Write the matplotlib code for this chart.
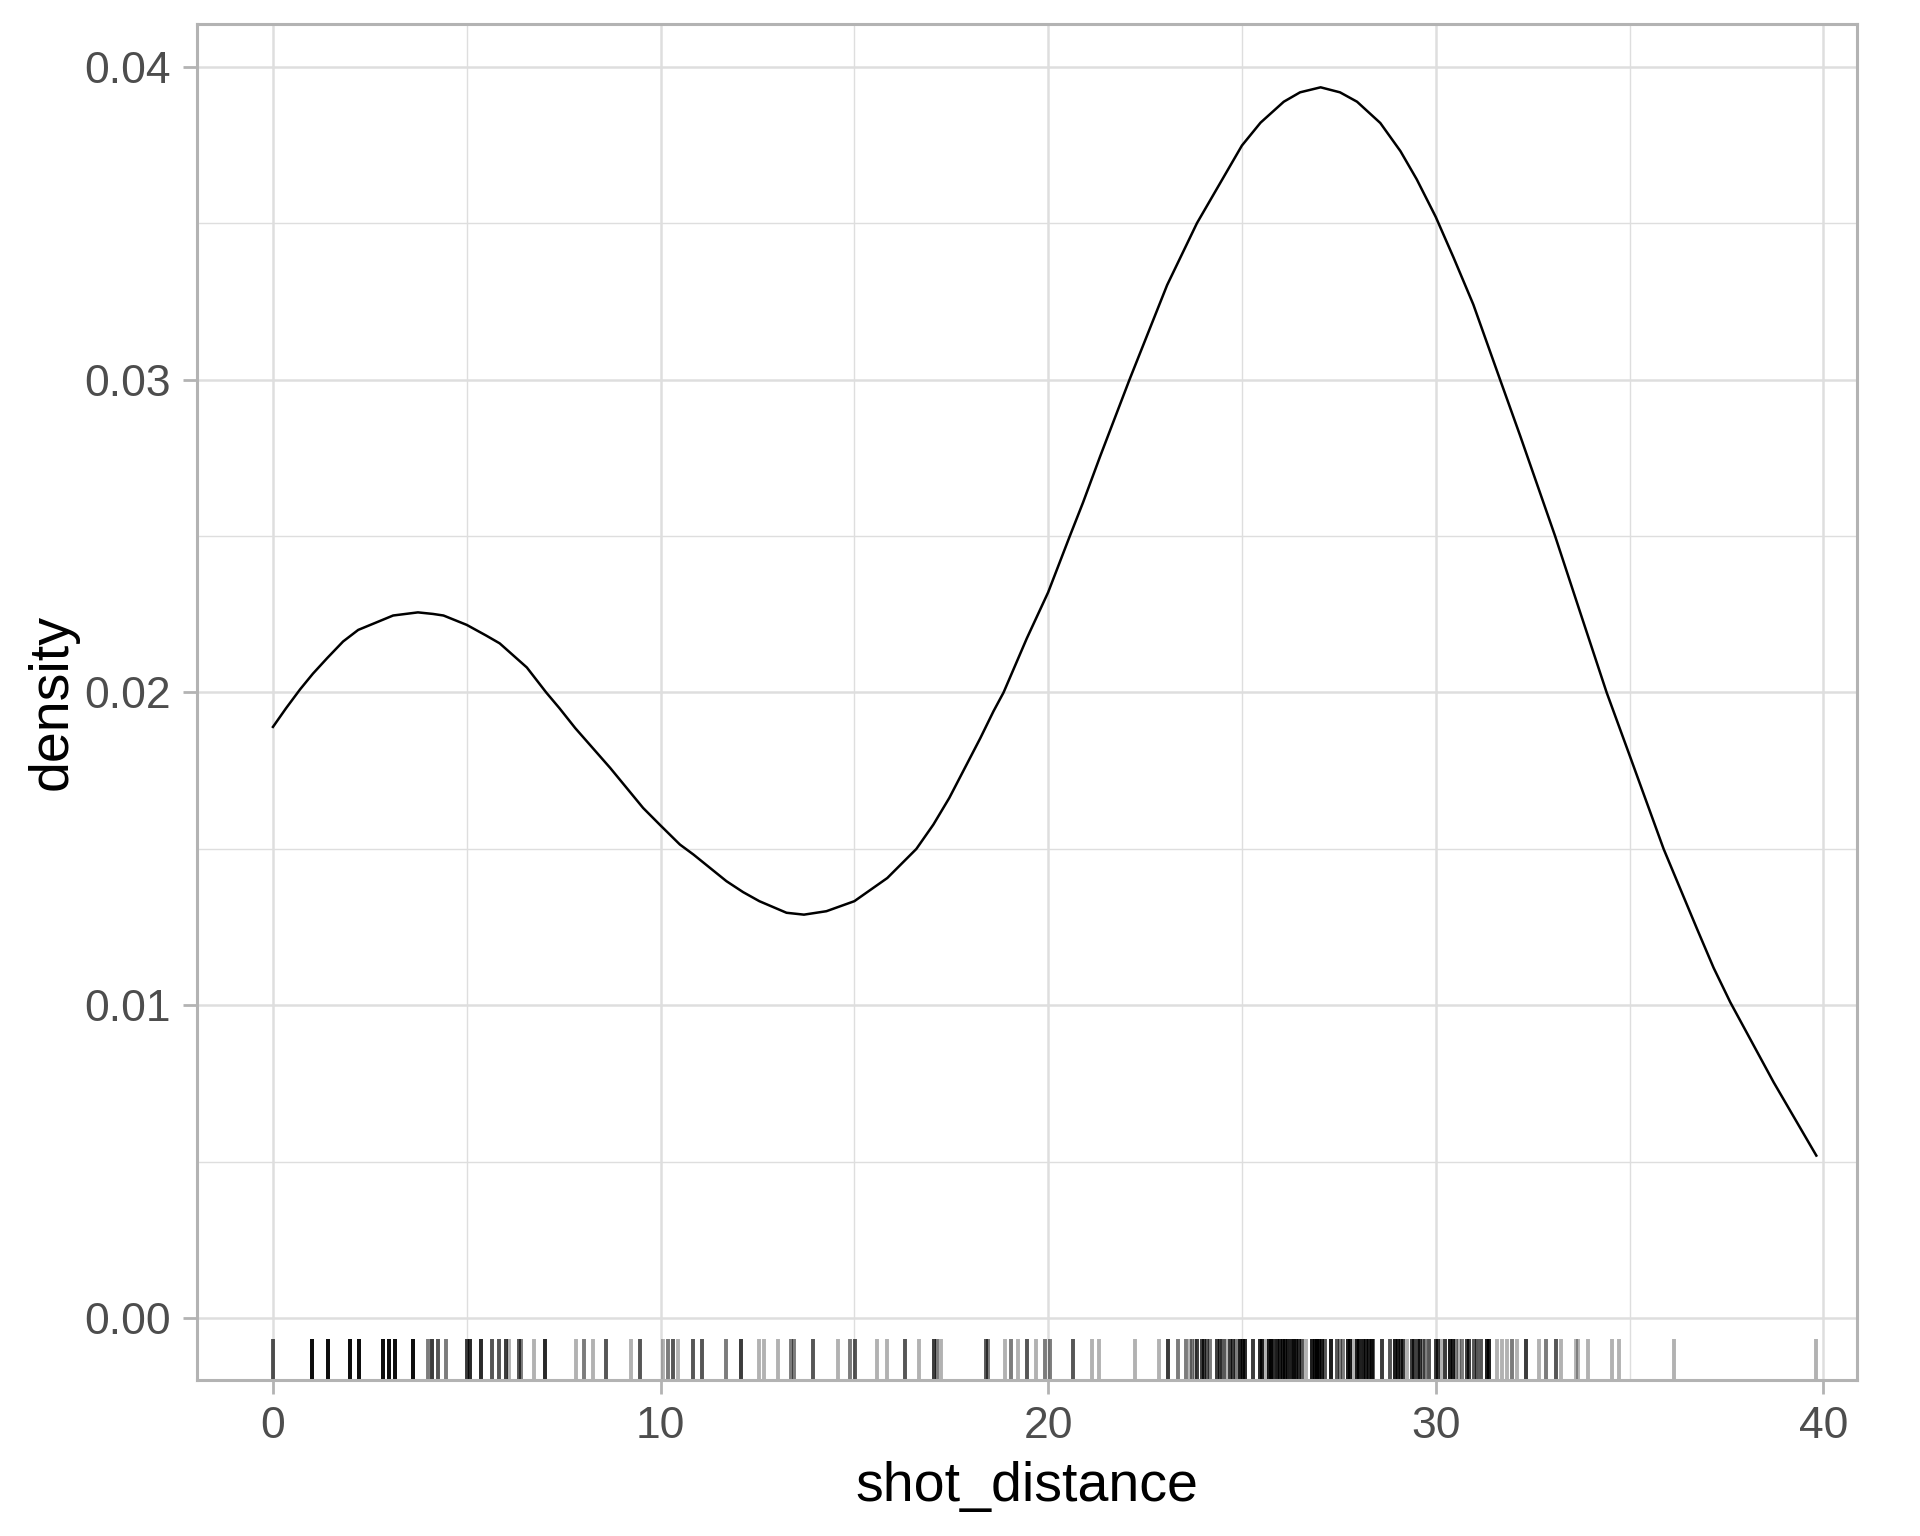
# -*- coding: utf-8 -*-
# density of shot distance with a rug underneath (ggplot theme_light look)

import numpy as np
import matplotlib
matplotlib.use("Agg")
import matplotlib.pyplot as plt
from matplotlib.ticker import MultipleLocator, FormatStrFormatter

plt.rcParams['font.family'] = ['Liberation Sans', 'DejaVu Sans']

# density curve
curve_x = [0.0, 0.34, 0.7, 1.03, 1.4, 1.81, 2.2, 2.67, 3.1, 3.74, 4.13, 4.4, 5.0,
           5.5, 5.85, 6.55, 7.05, 7.39, 7.8, 8.7, 9.55, 10.0, 10.5,
           10.85, 11.7, 12.13, 12.55, 13.25, 13.7, 14.28, 15.0, 15.85, 16.6, 17.04,
           17.45, 18.25, 18.59, 18.85, 19.45, 20.0, 20.56, 20.9, 21.34, 22.1,
           23.07, 23.84, 25.0, 25.48, 26.08, 26.5, 27.03,
           27.53, 27.97, 28.57, 29.09, 29.51, 30.0, 30.46, 30.97, 31.66, 32.18,
           33.08, 33.73, 34.41, 35.0, 35.88, 36.74, 37.17, 37.6, 38.72, 39.82]
curve_y = [0.0189, 0.0195, 0.0201, 0.0206, 0.0211, 0.02163, 0.0220, 0.02224,
           0.02246, 0.02256, 0.02251, 0.02246, 0.02216, 0.02182, 0.02157, 0.0208,
           0.0200, 0.0195, 0.01886, 0.01759, 0.01631, 0.01575,
           0.01514, 0.01482, 0.01397, 0.01362, 0.01333, 0.01296, 0.0129, 0.01301,
           0.01333, 0.01407, 0.0150, 0.01578, 0.01663, 0.01854, 0.0194, 0.0200,
           0.02173, 0.0232, 0.0250, 0.02607, 0.02754, 0.0300, 0.03302,
           0.0350, 0.03748, 0.03821, 0.03888, 0.03918, 0.03934,
           0.03918, 0.03888, 0.0382, 0.0373, 0.0364, 0.0352, 0.0339, 0.0324,
           0.0300, 0.0282, 0.0250, 0.02255, 0.0200, 0.0180, 0.0150, 0.01245,
           0.0112, 0.0101, 0.00754, 0.0052]

# rug: shot distances and how many shots sit on each
rug_values = [0.0, 1.0, 1.42, 2.0, 2.23, 2.83, 3.0, 3.15, 3.62, 4.0, 4.1, 4.25, 4.47,
              5.01, 5.09, 5.38, 5.65, 5.83, 6.01, 6.08, 6.34, 6.41, 6.73, 7.01,
              7.81, 8.02, 8.25, 8.58, 9.23, 9.47,
              10.06, 10.2, 10.31, 10.46, 10.84, 11.06, 11.69, 12.07, 12.54, 12.67,
              13.02, 13.36, 13.45, 13.94, 14.59, 14.9, 15.01, 15.59, 15.84, 16.3,
              16.66, 17.05, 17.14, 17.24, 18.4, 18.46, 18.89, 19.03, 19.22, 19.46,
              19.68, 19.91,
              20.04, 20.64, 21.12, 21.31, 22.24, 22.86, 23.1, 23.36,
              23.57, 23.66, 23.72, 23.79, 23.83, 23.96, 24.03, 24.09, 24.17, 24.35,
              24.43, 24.48, 24.54, 24.6, 24.69, 24.78, 24.85, 24.95, 25.02, 25.08,
              25.29, 25.46, 25.52, 25.62, 25.7, 25.76, 25.8, 25.9, 25.98, 26.05,
              26.12, 26.2, 26.28, 26.34, 26.4, 26.46, 26.55, 26.66, 26.81, 26.88,
              26.94, 27.0, 27.06, 27.15, 27.29, 27.45, 27.52, 27.6, 27.73, 27.8,
              27.87, 27.97, 28.03, 28.12, 28.2, 28.28, 28.35, 28.39, 28.61, 28.82,
              28.96, 29.02, 29.1, 29.15, 29.25, 29.4, 29.44, 29.53, 29.59, 29.66,
              29.72, 29.82, 30.0, 30.06, 30.14, 30.25, 30.37, 30.44, 30.52, 30.6,
              30.68, 30.82, 30.87, 31.0, 31.06, 31.18, 31.33, 31.38, 31.57,
              31.7, 31.85, 31.96, 32.09, 32.33, 32.67, 32.84, 33.11, 33.23, 33.62,
              33.68, 33.92, 34.56, 34.74, 36.14, 39.82]
rug_counts = [3, 8, 8, 8, 8, 8, 8, 8, 8, 2, 4, 3, 2,
              4, 5, 5, 3, 3, 4, 1, 3, 2, 1, 5,
              1, 2, 1, 3, 1, 3,
              1, 2, 3, 1, 3, 3, 2, 4, 1, 1,
              1, 2, 2, 3, 1, 2, 3, 1, 1, 3,
              1, 4, 2, 1, 3, 2, 1, 2, 1, 3,
              1, 2,
              2, 3, 1, 1, 1, 1, 4, 2,
              2, 1, 2, 1, 4, 4, 4, 3, 2, 4,
              4, 1, 2, 1, 4, 4, 2, 6, 6, 5,
              4, 5, 6, 1, 6, 6, 5, 6, 6, 6,
              6, 6, 6, 3, 6, 5, 3, 1, 6, 7,
              6, 7, 6, 3, 6, 3, 2, 2, 6, 6,
              1, 6, 6, 6, 6, 6, 5, 3, 4, 3,
              6, 6, 4, 4, 1, 4, 4, 4, 4, 2,
              2, 3, 4, 4, 1, 4, 6, 6, 2, 1,
              2, 4, 4, 3, 3, 3, 6, 6, 1,
              1, 1, 2, 1, 4, 1, 2, 3, 1, 1,
              1, 1, 1, 1, 1, 1]

x_ticks = [0, 10, 20, 30, 40]
y_ticks = [0.00, 0.01, 0.02, 0.03, 0.04]

shots = np.repeat(rug_values, rug_counts)

fig = plt.figure(figsize=(9.6, 7.68), dpi=200)
ax = fig.add_axes([0.1026, 0.1016, 0.8646, 0.8825])

# grid
ax.set_axisbelow(True)
ax.xaxis.set_minor_locator(MultipleLocator(5))
ax.yaxis.set_minor_locator(MultipleLocator(0.005))
ax.grid(which='major', color='#DEDEDE', linewidth=0.9)
ax.grid(which='minor', color='#DEDEDE', linewidth=0.5)

# density + rug
ax.plot(curve_x, curve_y, color='black', linewidth=0.9,
        solid_joinstyle='round')
ax.vlines(shots, 0, 0.03, transform=ax.get_xaxis_transform(),
          colors='black', alpha=0.3, linewidth=1.4)

ax.set_xlim(-1.96, 40.87)
ax.set_ylim(-0.00197, 0.04135)
ax.set_xticks(x_ticks)
ax.set_yticks(y_ticks)
ax.yaxis.set_major_formatter(FormatStrFormatter('%.2f'))

for s in ax.spines.values():
    s.set_color('#B3B3B3')
    s.set_linewidth(1.1)

ax.tick_params(which='major', direction='out', length=5, width=1.0,
               color='#B3B3B3', labelcolor='#4D4D4D', labelsize=16)
ax.tick_params(axis='x', pad=4.5)
ax.tick_params(axis='y', pad=4.5)
ax.tick_params(which='minor', length=0)

ax.set_xlabel("shot_distance", fontsize=20, color='black', labelpad=5)
ax.set_ylabel("density", fontsize=20, color='black', labelpad=2)

fig.savefig("out.png", dpi=200)
